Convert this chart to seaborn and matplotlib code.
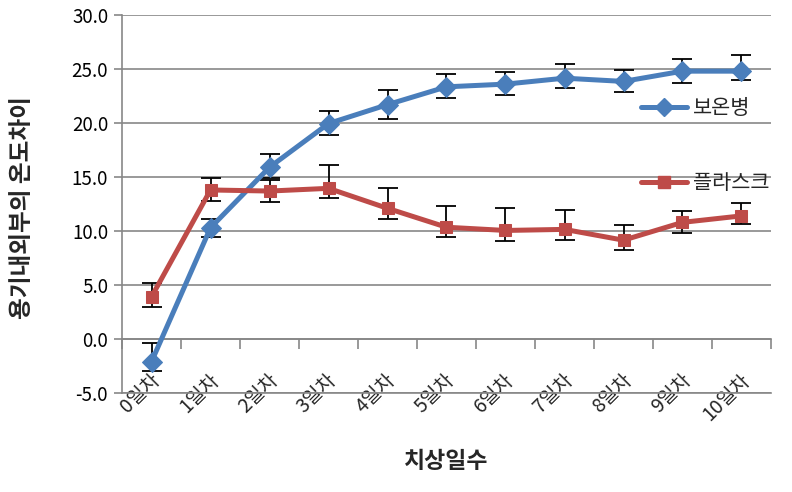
import numpy as np
import pandas as pd
import matplotlib
matplotlib.use("Agg")
import matplotlib.pyplot as plt
import seaborn as sns
from matplotlib.transforms import ScaledTranslation
from matplotlib.lines import Line2D

days = ["0일차", "1일차", "2일차", "3일차", "4일차", "5일차", "6일차", "7일차", "8일차", "9일차", "10일차"]
bottle = [-2.1, 10.3, 15.9, 19.95, 21.7, 23.35, 23.6, 24.15, 23.85, 24.8, 24.8]
bottle_lo = [0.9, 0.9, 1.0, 1.1, 1.3, 1.0, 1.0, 0.9, 0.95, 1.05, 0.8]
bottle_hi = [1.7, 0.8, 1.2, 1.2, 1.4, 1.2, 1.1, 1.3, 1.1, 1.1, 1.5]
flask = [3.9, 13.8, 13.7, 13.95, 12.1, 10.35, 10.05, 10.15, 9.15, 10.8, 11.4]
flask_lo = [0.95, 1.0, 1.05, 0.85, 0.95, 0.95, 1.0, 0.95, 0.9, 0.95, 0.75]
flask_hi = [1.25, 1.1, 1.05, 2.2, 1.9, 2.0, 2.1, 1.75, 1.45, 1.05, 1.15]
series_names = ["보온병", "플라스크"]
yticks = [-5, 0, 5, 10, 15, 20, 25, 30]

sns.set_theme(style="white")
plt.rcParams["font.family"] = ["Noto Sans CJK KR", "DejaVu Sans"]

BLUE = "#4A7EBB"
RED = "#BE4B48"
GRID = "#878787"

df = pd.DataFrame({
    "day": days * 2,
    "value": bottle + flask,
    "series": [series_names[0]] * len(days) + [series_names[1]] * len(days),
})

fig = plt.figure(figsize=(7.92, 4.92), dpi=100)
ax = fig.add_axes([122 / 792, 1 - 393 / 492, (771 - 122) / 792, (393 - 15) / 492])

x = np.arange(len(days))
ax.errorbar(x, bottle, yerr=[bottle_lo, bottle_hi], fmt="none", ecolor="black",
            elinewidth=1.3, capsize=7.5, capthick=1.3, zorder=2)
ax.errorbar(x, flask, yerr=[flask_lo, flask_hi], fmt="none", ecolor="black",
            elinewidth=1.3, capsize=7.5, capthick=1.3, zorder=2)

sns.lineplot(data=df[df.series == series_names[0]], x="day", y="value", ax=ax,
             color=BLUE, linewidth=3.6, marker="D", markersize=10.5,
             markeredgecolor=BLUE, sort=False, legend=False, zorder=3)
sns.lineplot(data=df[df.series == series_names[1]], x="day", y="value", ax=ax,
             color=RED, linewidth=3.6, marker="s", markersize=9,
             markeredgecolor=RED, sort=False, legend=False, zorder=4)

ax.set_xlim(-0.5, len(days) - 0.5)
ax.set_ylim(-5, 30)
ax.set_yticks(yticks)
ax.set_yticklabels([f"{v:.1f}" for v in yticks], fontsize=13.5, color="black")
ax.yaxis.grid(True, color=GRID, linewidth=1.2)
ax.set_axisbelow(True)
ax.tick_params(axis="y", which="both", left=True, length=6, width=1.2, color=GRID, pad=4)

ax.set_xticks(x)
ax.set_xticklabels(days, fontsize=14, rotation=45, ha="right", va="center",
                   rotation_mode="anchor")
ax.tick_params(axis="x", bottom=False, length=0, pad=0)
for lbl in ax.get_xticklabels():
    lbl.set_transform(lbl.get_transform() + ScaledTranslation(5 / 100, 16 / 100, fig.dpi_scale_trans))

for side in ["top", "right"]:
    ax.spines[side].set_visible(False)
for side in ["left", "bottom"]:
    ax.spines[side].set_color(GRID)
    ax.spines[side].set_linewidth(1.2)

# category axis crossing at 0 with tick marks at category boundaries
sec = ax.secondary_xaxis(5 / 35)
sec.set_xticks(np.arange(len(days) + 1) - 0.5)
sec.set_xticklabels([])
sec.tick_params(axis="x", direction="out", length=7, width=1.2, color=GRID)
sec.spines["bottom"].set_color(GRID)
sec.spines["bottom"].set_linewidth(1.2)

ax.set_xlabel("치상일수", fontsize=16.5, fontweight="bold", labelpad=0)
ax.xaxis.set_label_coords(0.5, -(450 - 393) / 378)
ax.set_ylabel("용기내외부의 온도차이", fontsize=17, fontweight="bold")
ax.yaxis.set_label_coords(-(122 - 34) / 649, 0.49)

handles = [
    Line2D([], [], color=BLUE, linewidth=3.6, marker="D", markersize=9, markeredgecolor=BLUE),
    Line2D([], [], color=RED, linewidth=3.6, marker="s", markersize=8, markeredgecolor=RED),
]
ax.legend(handles, series_names, loc="center left", bbox_to_anchor=(0.80, 0.655),
          frameon=False, fontsize=15, handlelength=2.2, handletextpad=0.3,
          labelspacing=2.55, borderpad=0, borderaxespad=0)

fig.savefig("out.png", dpi=100)
